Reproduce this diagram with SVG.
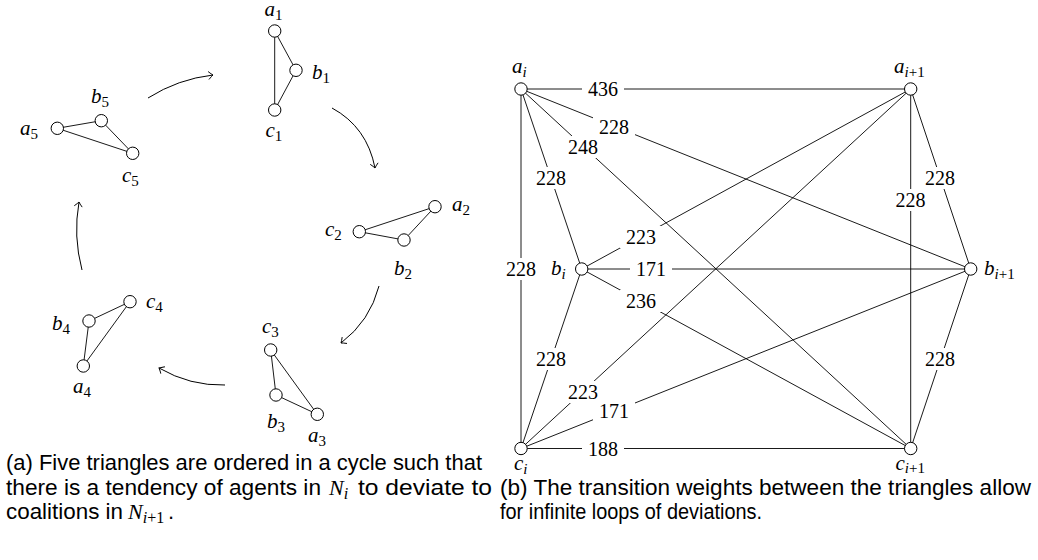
<svg xmlns="http://www.w3.org/2000/svg" width="1038" height="560" viewBox="0 0 1038 560">
<defs>
<style>
.e{stroke:#000;stroke-width:0.9;fill:none}
.n{fill:#fff;stroke:#000;stroke-width:1}
.m{font-family:"Liberation Serif",serif;font-style:italic;font-size:21px;fill:#000}
.s{font-size:15px}
.u{font-style:normal}
.w{font-family:"Liberation Serif",serif;font-size:20px;fill:#000;text-anchor:middle}
.bg{fill:#fff}
.cap{font-family:"Liberation Sans",sans-serif;font-size:22px;fill:#000}
.capm{font-family:"Liberation Serif",serif;font-style:italic;font-size:22px;fill:#000}
.cs{font-size:16px}
.ar{stroke:#000;stroke-width:1;fill:none;marker-end:url(#to)}
</style>
<marker id="to" markerUnits="userSpaceOnUse" viewBox="-6 -5 8 10" refX="0" refY="0" markerWidth="8" markerHeight="10" orient="auto" overflow="visible">
<path d="M-4.5,-4 Q-1.5,-1 0,0 Q-1.5,1 -4.5,4" fill="none" stroke="#000" stroke-width="0.9"/>
</marker>
</defs>
<rect width="1038" height="560" fill="#fff"/>

<g id="connectors">
<!-- left triangles -->
<line class="e" x1="274.7" y1="31" x2="296" y2="70.3"/>
<line class="e" x1="296" y1="70.3" x2="274.7" y2="110"/>
<line class="e" x1="274.7" y1="31" x2="274.7" y2="110"/>
<line class="e" x1="435" y1="206.7" x2="404" y2="240"/>
<line class="e" x1="404" y1="240" x2="359.3" y2="231.7"/>
<line class="e" x1="359.3" y1="231.7" x2="435" y2="206.7"/>
<line class="e" x1="270.7" y1="350" x2="276" y2="395"/>
<line class="e" x1="276" y1="395" x2="317.3" y2="414.3"/>
<line class="e" x1="270.7" y1="350" x2="317.3" y2="414.3"/>
<line class="e" x1="130" y1="301.7" x2="89" y2="321"/>
<line class="e" x1="89" y1="321" x2="83.3" y2="366"/>
<line class="e" x1="83.3" y1="366" x2="130" y2="301.7"/>
<line class="e" x1="57.3" y1="128.3" x2="101.3" y2="120.7"/>
<line class="e" x1="101.3" y1="120.7" x2="132.7" y2="153.3"/>
<line class="e" x1="57.3" y1="128.3" x2="132.7" y2="153.3"/>
<!-- cycle arrows -->
<path class="ar" d="M148,98 Q178,79 213,75"/>
<path class="ar" d="M332,108 Q367,127 375,168"/>
<path class="ar" d="M379,286 Q370,321 341,343"/>
<path class="ar" d="M225,385 Q190,386 159,368"/>
<path class="ar" d="M82,270 Q73,236 79,202"/>
<!-- right graph edges -->
<line class="e" x1="521" y1="89" x2="910.7" y2="89"/>
<line class="e" x1="521" y1="89" x2="970.7" y2="269"/>
<line class="e" x1="521" y1="89" x2="910.7" y2="448.5"/>
<line class="e" x1="521" y1="89" x2="581.7" y2="269"/>
<line class="e" x1="521" y1="89" x2="521" y2="448.5"/>
<line class="e" x1="581.7" y1="269" x2="910.7" y2="89"/>
<line class="e" x1="581.7" y1="269" x2="970.7" y2="269"/>
<line class="e" x1="581.7" y1="269" x2="910.7" y2="448.5"/>
<line class="e" x1="581.7" y1="269" x2="521" y2="448.5"/>
<line class="e" x1="521" y1="448.5" x2="910.7" y2="89"/>
<line class="e" x1="521" y1="448.5" x2="970.7" y2="269"/>
<line class="e" x1="521" y1="448.5" x2="910.7" y2="448.5"/>
<line class="e" x1="910.7" y1="89" x2="970.7" y2="269"/>
<line class="e" x1="910.7" y1="89" x2="910.7" y2="448.5"/>
<line class="e" x1="970.7" y1="269" x2="910.7" y2="448.5"/>
<!-- edge labels -->
<g id="edge-labels">
<rect class="bg" x="582" y="78" width="42" height="22"/><text class="w" x="603" y="96">436</text>
<rect class="bg" x="593" y="116" width="42" height="22"/><text class="w" x="614" y="134">228</text>
<rect class="bg" x="562" y="136" width="42" height="22"/><text class="w" x="583" y="154">248</text>
<rect class="bg" x="530" y="167" width="42" height="22"/><text class="w" x="551" y="185">228</text>
<rect class="bg" x="500" y="258" width="42" height="22"/><text class="w" x="521" y="276">228</text>
<rect class="bg" x="620" y="226" width="42" height="22"/><text class="w" x="641" y="244">223</text>
<rect class="bg" x="630" y="258" width="42" height="22"/><text class="w" x="651" y="276">171</text>
<rect class="bg" x="620" y="290" width="42" height="22"/><text class="w" x="641" y="308">236</text>
<rect class="bg" x="530" y="348" width="42" height="22"/><text class="w" x="551" y="366">228</text>
<rect class="bg" x="562" y="381" width="42" height="22"/><text class="w" x="583" y="399">223</text>
<rect class="bg" x="593" y="400" width="42" height="22"/><text class="w" x="614" y="418">171</text>
<rect class="bg" x="582" y="438" width="42" height="22"/><text class="w" x="603" y="456">188</text>
<rect class="bg" x="919" y="167" width="42" height="22"/><text class="w" x="940" y="185">228</text>
<rect class="bg" x="890" y="189" width="41" height="22"/><text class="w" x="910.5" y="207">228</text>
<rect class="bg" x="919" y="348" width="42" height="22"/><text class="w" x="940" y="366">228</text>
</g>
</g>

<!-- left triangle nodes -->
<g id="a1"><circle class="n" cx="274.7" cy="31" r="6.2"/><text class="m" x="264.5" y="16">a<tspan class="s u" dy="3.5">1</tspan></text></g>
<g id="b1"><circle class="n" cx="296" cy="70.3" r="6.2"/><text class="m" x="312" y="79">b<tspan class="s u" dy="3.5">1</tspan></text></g>
<g id="c1"><circle class="n" cx="274.7" cy="110" r="6.2"/><text class="m" x="265.5" y="137">c<tspan class="s u" dy="3.5">1</tspan></text></g>
<g id="a2"><circle class="n" cx="435" cy="206.7" r="6.2"/><text class="m" x="452" y="211">a<tspan class="s u" dy="3.5">2</tspan></text></g>
<g id="b2"><circle class="n" cx="404" cy="240" r="6.2"/><text class="m" x="394" y="275">b<tspan class="s u" dy="3.5">2</tspan></text></g>
<g id="c2"><circle class="n" cx="359.3" cy="231.7" r="6.2"/><text class="m" x="325" y="236">c<tspan class="s u" dy="3.5">2</tspan></text></g>
<g id="a3"><circle class="n" cx="317.3" cy="414.3" r="6.2"/><text class="m" x="308" y="442">a<tspan class="s u" dy="3.5">3</tspan></text></g>
<g id="b3"><circle class="n" cx="276" cy="395" r="6.2"/><text class="m" x="267" y="428">b<tspan class="s u" dy="3.5">3</tspan></text></g>
<g id="c3"><circle class="n" cx="270.7" cy="350" r="6.2"/><text class="m" x="262" y="333">c<tspan class="s u" dy="3.5">3</tspan></text></g>
<g id="a4"><circle class="n" cx="83.3" cy="366" r="6.2"/><text class="m" x="73" y="393">a<tspan class="s u" dy="3.5">4</tspan></text></g>
<g id="b4"><circle class="n" cx="89" cy="321" r="6.2"/><text class="m" x="52" y="330">b<tspan class="s u" dy="3.5">4</tspan></text></g>
<g id="c4"><circle class="n" cx="130" cy="301.7" r="6.2"/><text class="m" x="146" y="308">c<tspan class="s u" dy="3.5">4</tspan></text></g>
<g id="a5"><circle class="n" cx="57.3" cy="128.3" r="6.2"/><text class="m" x="20" y="135">a<tspan class="s u" dy="3.5">5</tspan></text></g>
<g id="b5"><circle class="n" cx="101.3" cy="120.7" r="6.2"/><text class="m" x="91" y="103">b<tspan class="s u" dy="3.5">5</tspan></text></g>
<g id="c5"><circle class="n" cx="132.7" cy="153.3" r="6.2"/><text class="m" x="122" y="182">c<tspan class="s u" dy="3.5">5</tspan></text></g>

<!-- right graph nodes -->
<g id="ai"><circle class="n" cx="521" cy="89" r="6.2"/><text class="m" x="512" y="73">a<tspan class="s" dy="3.5">i</tspan></text></g>
<g id="bi"><circle class="n" cx="581.7" cy="269" r="6.2"/><text class="m" x="551" y="275">b<tspan class="s" dy="3.5">i</tspan></text></g>
<g id="ci"><circle class="n" cx="521" cy="448.5" r="6.2"/><text class="m" x="514" y="470">c<tspan class="s" dy="3.5">i</tspan></text></g>
<g id="ai1"><circle class="n" cx="910.7" cy="89" r="6.2"/><text class="m" x="894" y="73">a<tspan class="s" dy="3.5">i</tspan><tspan class="s u">+1</tspan></text></g>
<g id="bi1"><circle class="n" cx="970.7" cy="269" r="6.2"/><text class="m" x="984" y="275">b<tspan class="s" dy="3.5">i</tspan><tspan class="s u">+1</tspan></text></g>
<g id="ci1"><circle class="n" cx="910.7" cy="448.5" r="6.2"/><text class="m" x="895.5" y="469.5">c<tspan class="s" dy="3.5">i</tspan><tspan class="s u">+1</tspan></text></g>

<!-- captions -->
<g id="caption-a">
<text class="cap" x="6" y="470" textLength="476" lengthAdjust="spacingAndGlyphs">(a) Five triangles are ordered in a cycle such that</text>
<text class="cap" x="6" y="495" textLength="315" lengthAdjust="spacingAndGlyphs">there is a tendency of agents in</text>
<text class="capm" x="329" y="495">N<tspan class="cs" dy="3.5">i</tspan></text>
<text class="cap" x="358" y="495" textLength="134" lengthAdjust="spacingAndGlyphs">to deviate to</text>
<text class="cap" x="6" y="519" textLength="117" lengthAdjust="spacingAndGlyphs">coalitions in</text>
<text class="capm" x="128" y="519">N<tspan class="cs" dy="3.5">i</tspan><tspan class="cs u">+1</tspan></text>
<text class="cap" x="168" y="519">.</text>
</g>
<g id="caption-b">
<text class="cap" x="500" y="495" textLength="531" lengthAdjust="spacingAndGlyphs">(b) The transition weights between the triangles allow</text>
<text class="cap" x="500" y="519" textLength="262" lengthAdjust="spacingAndGlyphs">for infinite loops of deviations.</text>
</g>
</svg>
